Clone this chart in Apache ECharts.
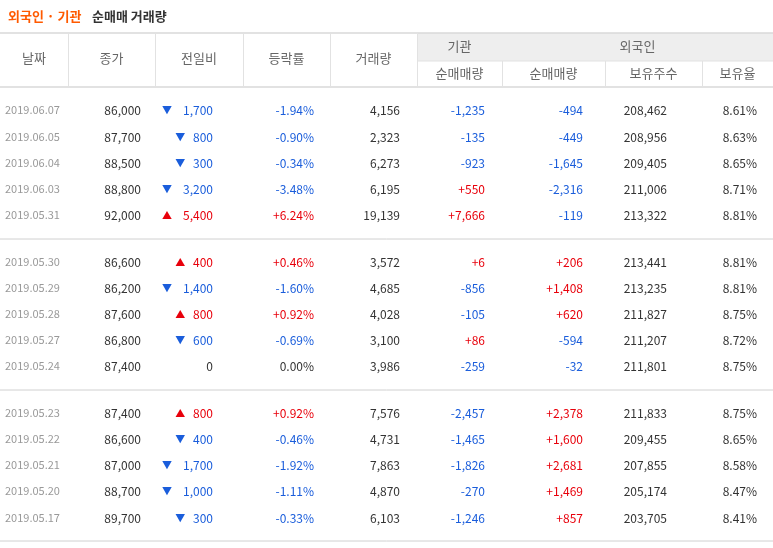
<!DOCTYPE html>
<html><head><meta charset="utf-8">
<script src="https://cdn.jsdelivr.net/npm/echarts@6/dist/echarts.min.js"></script>
<style>html,body{margin:0;background:#fff}#c{width:773px;height:548px}</style>
</head><body><div id="c"></div>
<script>
var dates=['2019.06.07','2019.06.05','2019.06.04','2019.06.03','2019.05.31','2019.05.30','2019.05.29','2019.05.28','2019.05.27','2019.05.24','2019.05.23','2019.05.22','2019.05.21','2019.05.20','2019.05.17'];
var closes=['86,000','87,700','88,500','88,800','92,000','86,600','86,200','87,600','86,800','87,400','87,400','86,600','87,000','88,700','89,700'];
var changes=[-1700,-800,-300,-3200,5400,400,-1400,800,-600,0,800,-400,-1700,-1000,-300];
var rates=['-1.94%','-0.90%','-0.34%','-3.48%','+6.24%','+0.46%','-1.60%','+0.92%','-0.69%','0.00%','+0.92%','-0.46%','-1.92%','-1.11%','-0.33%'];
var volumes=['4,156','2,323','6,273','6,195','19,139','3,572','4,685','4,028','3,100','3,986','7,576','4,731','7,863','4,870','6,103'];
var instNet=['-1,235','-135','-923','+550','+7,666','+6','-856','-105','+86','-259','-2,457','-1,465','-1,826','-270','-1,246'];
var frgnNet=['-494','-449','-1,645','-2,316','-119','+206','+1,408','+620','-594','-32','+2,378','+1,600','+2,681','+1,469','+857'];
var frgnHold=['208,462','208,956','209,405','211,006','213,322','213,441','213,235','211,827','211,207','211,801','211,833','209,455','207,855','205,174','203,705'];
var frgnRatio=['8.61%','8.63%','8.65%','8.71%','8.81%','8.81%','8.81%','8.75%','8.72%','8.75%','8.75%','8.65%','8.58%','8.47%','8.41%'];

var F='"Noto Sans CJK KR", sans-serif';
var BLUE='#1a5ddb',RED='#e8000b',DARK='#333',GRAY='#999',LINE='#e2e2e2';
var bounds=[0,68,155,243,330,417,502,605,702,773];
var chart=echarts.init(document.getElementById('c'));
chart.setOption({series:[]});
var zr=chart.getZr();
function col(s){return s.charAt(0)=='-'?BLUE:(s.charAt(0)=='+'?RED:DARK);}
function fmt(n){return Math.abs(n).toString().replace(/\B(?=(\d{3})+(?!\d))/g,',');}
function txt(x,y,s,c,align,size,weight){
  zr.add(new echarts.graphic.Text({x:x,y:y,style:{text:s,fill:c,font:(weight||'normal')+' '+(size||12)+'px '+F,align:align||'right',verticalAlign:'middle'}}));
}
function hline(x1,y1,x2,y2,c,w){
  zr.add(new echarts.graphic.Line({shape:{x1:x1,y1:y1,x2:x2,y2:y2},style:{stroke:c,lineWidth:w||1}}));
}
// title
txt(8,16,'외국인 · 기관','#ff5a00','left',13,'bold');
txt(92,16,'순매매 거래량','#333','left',13,'bold');
// header
zr.add(new echarts.graphic.Rect({shape:{x:417,y:33,width:356,height:28},style:{fill:'#eeeeee'}}));
hline(0,33,773,33,'#d8d8d8',1.5);
hline(417,61,773,61,LINE);
hline(0,87,773,87,'#d8d8d8',1.5);
for(var i=1;i<9;i++){hline(bounds[i]+0.5,(i>=6)?61:33,bounds[i]+0.5,87,LINE);}
['날짜','종가','전일비','등락률','거래량'].forEach(function(s,i){txt((bounds[i]+bounds[i+1])/2,58,s,'#666','center',13);});
txt((417+502)/2,46,'기관','#666','center',13);
txt((502+773)/2,46,'외국인','#666','center',13);
['순매매량','순매매량','보유주수','보유율'].forEach(function(s,k){txt((bounds[k+5]+bounds[k+6])/2,73,s,'#666','center',13);});
// rows
var rowY=[110,137,163,189,215,262,288,314,340,366,413,439,465,491,518];
rowY.forEach(function(y,r){
  txt(5,y,dates[r],GRAY,'left',11);
  txt(141,y,closes[r],DARK);
  var c=changes[r];
  var cc=c<0?BLUE:(c>0?RED:DARK);
  txt(213,y,fmt(c),cc);
  if(c!==0){var w=fmt(c).length*6.6;txt(213-w-8,y,c<0?'▼':'▲',cc,'right',10);}
  txt(314,y,rates[r],col(rates[r]));
  txt(400,y,volumes[r],DARK);
  txt(485,y,instNet[r],col(instNet[r]));
  txt(583,y,frgnNet[r],col(frgnNet[r]));
  txt(667,y,frgnHold[r],DARK);
  txt(757,y,frgnRatio[r],DARK);
});
hline(0,239,773,239,'#d0d0d0');
hline(0,390,773,390,'#d0d0d0');
hline(0,541,773,541,'#d0d0d0');
</script></body></html>
